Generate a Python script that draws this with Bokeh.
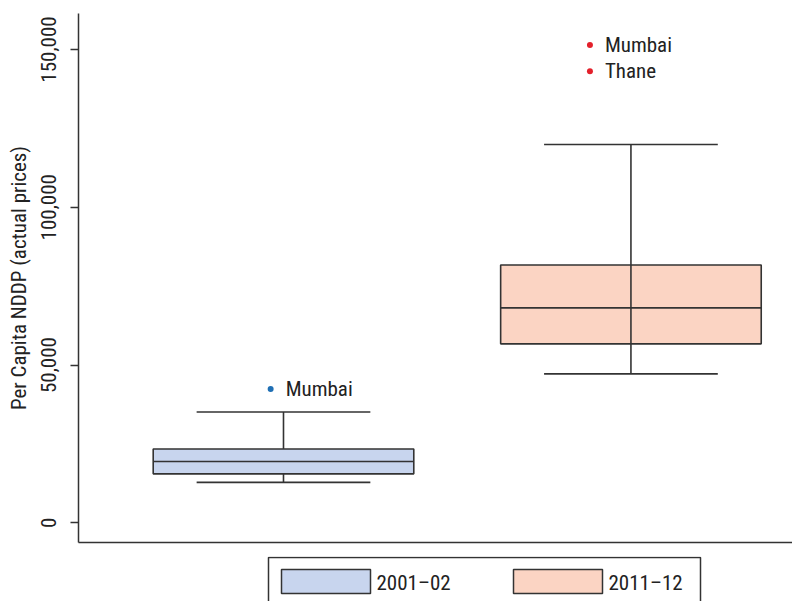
from bokeh.plotting import figure
from bokeh.layouts import column
from bokeh.models import ColumnDataSource, FixedTicker, Range1d, NumeralTickFormatter
from bokeh.core.properties import value
from bokeh.embed import file_html
from bokeh.resources import INLINE

# Per capita NDDP by district, summary statistics for each period
periods = ["2001–02", "2011–12"]
lower_whisker = [12800, 47200]
q1 = [15500, 56700]
median = [19400, 68100]
q3 = [23400, 81700]
upper_whisker = [35100, 119900]

# Districts lying outside the whiskers
outlier_period = ["2001–02", "2011–12", "2011–12"]
outlier_value = [42400, 151400, 143100]
outlier_name = ["Mumbai", "Mumbai", "Thane"]

y_ticks = [0, 50000, 100000, 150000]

# ---- styling -------------------------------------------------------------
FONT = "Liberation Sans Narrow, Roboto Condensed, DejaVu Sans Condensed, Roboto, sans-serif"
INK = "#333333"
TEXT = "#222222"
box_fill = ["#c8d5ee", "#fbd4c3"]
outlier_color = ["#1f6fb4", "#e3202b", "#e3202b"]
outlier_dx = [-0.037, -0.118, -0.118]   # small sideways nudge of the outlier dots
whisker_through_box = [False, True]
BOX_HALF = 0.375
CAP_HALF = 0.25
W = 792
LEFT = 78

pos = [i + 1 for i in range(len(periods))]

p = figure(width=W, height=556,
           x_range=Range1d(0.41, 2.465), y_range=Range1d(-6250, 161400),
           output_backend="svg", toolbar_location=None,
           min_border_left=LEFT, min_border_right=0, min_border_top=13, min_border_bottom=14)
p.outline_line_color = None
p.xgrid.visible = False
p.ygrid.visible = False

# boxes
for i, x in enumerate(pos):
    p.quad(left=[x - BOX_HALF], right=[x + BOX_HALF], bottom=[q1[i]], top=[q3[i]],
           fill_color=box_fill[i], line_color=INK, line_width=1.6)

# medians, whiskers and caps
seg = dict(x0=[], y0=[], x1=[], y1=[])
def add_seg(a, b, c, d):
    seg["x0"].append(a); seg["y0"].append(b); seg["x1"].append(c); seg["y1"].append(d)

for i, x in enumerate(pos):
    add_seg(x - BOX_HALF, median[i], x + BOX_HALF, median[i])
    if whisker_through_box[i]:
        add_seg(x, lower_whisker[i], x, upper_whisker[i])
    else:
        add_seg(x, q3[i], x, upper_whisker[i])
        add_seg(x, lower_whisker[i], x, q1[i])
    add_seg(x - CAP_HALF, upper_whisker[i], x + CAP_HALF, upper_whisker[i])
    add_seg(x - CAP_HALF, lower_whisker[i], x + CAP_HALF, lower_whisker[i])

p.segment(x0="x0", y0="y0", x1="x1", y1="y1", source=ColumnDataSource(seg),
          line_color=INK, line_width=1.6)

# outliers with district names
ox = [pos[periods.index(g)] + dx for g, dx in zip(outlier_period, outlier_dx)]
osrc = ColumnDataSource(dict(x=ox, y=outlier_value, name=outlier_name, color=outlier_color))
p.scatter(x="x", y="y", source=osrc, size=6, fill_color="color", line_color=None)
p.text(x="x", y="y", text="name", source=osrc, x_offset=15,
       text_align="left", text_baseline="middle",
       text_font=value(FONT), text_font_size="21px", text_color=TEXT)

# axes
p.yaxis.ticker = FixedTicker(ticks=y_ticks)
p.yaxis.formatter = NumeralTickFormatter(format="0,0")
p.yaxis.major_label_orientation = "parallel"
p.yaxis.major_label_text_font = FONT
p.yaxis.major_label_text_font_size = "21px"
p.yaxis.major_label_text_color = TEXT
p.yaxis.major_label_standoff = 14
p.yaxis.major_tick_out = 8
p.yaxis.major_tick_in = 0
p.yaxis.minor_tick_line_color = None
p.yaxis.axis_line_color = INK
p.yaxis.axis_line_width = 1.5
p.yaxis.major_tick_line_color = INK
p.yaxis.major_tick_line_width = 1.5
p.yaxis.axis_label = "Per Capita NDDP (actual prices)"
p.yaxis.axis_label_text_font = FONT
p.yaxis.axis_label_text_font_style = "normal"
p.yaxis.axis_label_text_font_size = "21px"
p.yaxis.axis_label_text_color = TEXT
p.yaxis.axis_label_standoff = 8

p.xaxis.ticker = FixedTicker(ticks=[])
p.xaxis.major_label_text_font_size = "0px"
p.xaxis.major_label_standoff = 0
p.xaxis.major_tick_out = 0
p.xaxis.major_tick_in = 0
p.xaxis.major_tick_line_color = None
p.xaxis.minor_tick_line_color = None
p.xaxis.axis_line_color = INK
p.xaxis.axis_line_width = 1.5

# ---- legend strip under the chart (page-pixel x, y downwards) --------------
# the column aligns this strip's frame with the chart frame, which starts at LEFT
LEG_H = 45
leg = figure(width=W, height=LEG_H, x_range=Range1d(LEFT, W), y_range=Range1d(LEG_H, 0),
             output_backend="svg", toolbar_location=None,
             min_border_left=LEFT, min_border_right=0,
             min_border_top=0, min_border_bottom=0)
leg.axis.visible = False
leg.grid.visible = False
leg.outline_line_color = None

FRAME_L, FRAME_R, FRAME_T = 268, 700, 1
SWATCH_L0, ITEM_STEP, SWATCH_W = 281, 232, 89
SWATCH_T, SWATCH_B = 13, 37

leg.quad(left=[FRAME_L], right=[FRAME_R], top=[FRAME_T], bottom=[LEG_H + 20],
         fill_color="white", line_color=INK, line_width=1.5)
sw_left = [SWATCH_L0 + i * ITEM_STEP for i in range(len(periods))]
leg.quad(left=sw_left, right=[l + SWATCH_W for l in sw_left],
         top=[SWATCH_T] * len(periods), bottom=[SWATCH_B] * len(periods),
         fill_color=box_fill, line_color=INK, line_width=1.5)
leg.text(x=[l + SWATCH_W + 6 for l in sw_left], y=[(SWATCH_T + SWATCH_B) / 2 + 1] * len(periods),
         text=periods, text_align="left", text_baseline="middle",
         text_font=value(FONT), text_font_size="21px", text_color=TEXT)

layout = column(p, leg, spacing=0)
open("out.html", "w").write(file_html(layout, INLINE))
